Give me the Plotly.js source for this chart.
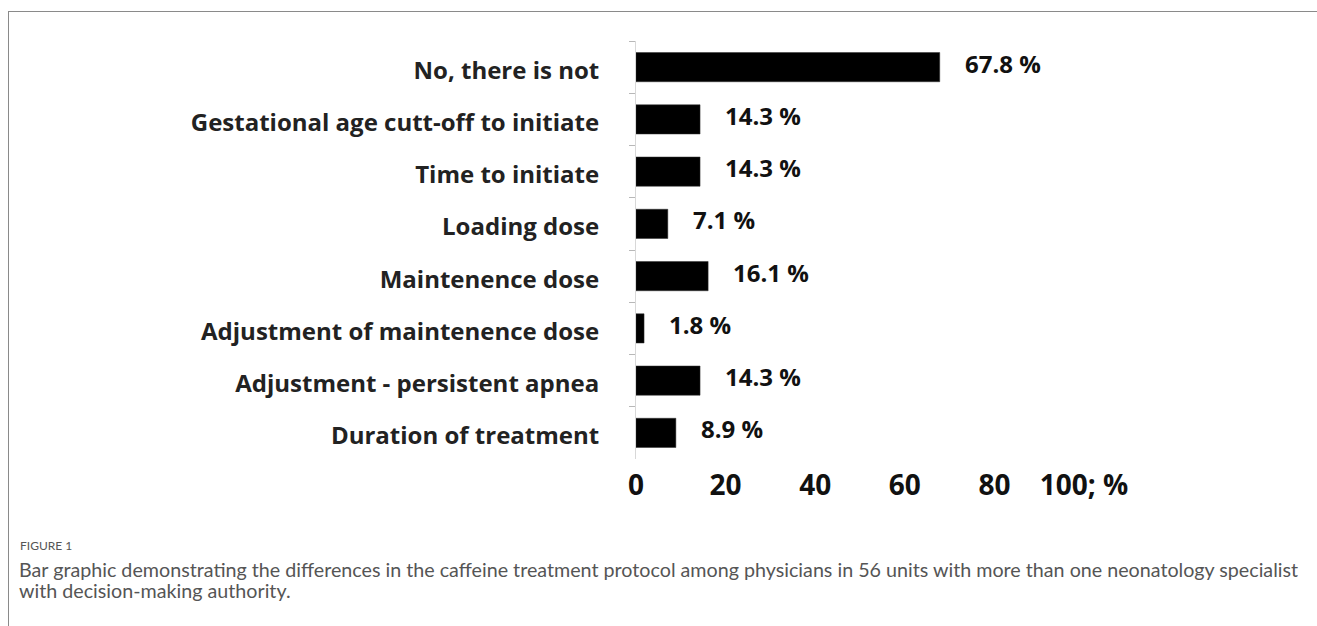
<!DOCTYPE html>
<html>
<head>
<meta charset="utf-8">
<script src="https://cdn.plot.ly/plotly-3.0.1.min.js"></script>
<style>
  html, body { margin: 0; padding: 0; background: #fff; }
  #wrap { position: relative; width: 1317px; height: 626px; overflow: hidden; }
  #frame { position: absolute; left: 8px; top: 11px; width: 1320px; height: 640px;
           border-left: 1px solid #8a8a8a; border-top: 1px solid #8a8a8a; pointer-events: none; }
  #chart { position: absolute; left: 0; top: 0; width: 1317px; height: 626px; }
</style>
</head>
<body>
<div id="wrap">
  <div id="chart"></div>
  <div id="frame"></div>
</div>
<script>
const categories = [
  "No, there is not",
  "Gestational age cutt-off to initiate",
  "Time to initiate",
  "Loading dose",
  "Maintenence dose",
  "Adjustment of maintenence dose",
  "Adjustment - persistent apnea",
  "Duration of treatment"
];
const values = [67.8, 14.3, 14.3, 7.1, 16.1, 1.8, 14.3, 8.9];
const valueLabels = values.map(v => v.toFixed(1) + " %");
const xTickVals = [0, 20, 40, 60, 80, 100];
const xTickText = ["0", "20", "40", "60", "80", "100; %"];
const figureLabel = "FIGURE 1";
const captionLines = [
  "Bar graphic demonstrating the differences in the caffeine treatment protocol among physicians in 56 units with more than one neonatology specialist",
  "with decision-making authority."
];

const W = 1317, H = 626, L = 636, R = 1317 - 1084, T = 41, B = 626 - 459;
function px2paperX(px) { return (px - L) / (W - L - R); }
function px2paperY(py) { return (H - B - py) / (H - T - B); }

const trace = {
  type: "bar",
  orientation: "h",
  x: values,
  y: categories,
  marker: { color: "#000000", line: { color: "#333", width: 0.5 } },
  width: 0.56,
  hoverinfo: "skip"
};

const annotations = values.map((v, i) => ({
  x: v, y: categories[i], xref: "x", yref: "y",
  text: valueLabels[i], showarrow: false,
  xanchor: "left", yanchor: "middle", xshift: 23, yshift: 4,
  font: { family: "Open Sans, sans-serif", size: 24, color: "#111", weight: 700 }
}));

annotations.push({
  xref: "paper", yref: "paper", x: px2paperX(18), y: px2paperY(545),
  xanchor: "left", yanchor: "middle", showarrow: false,
  text: figureLabel,
  font: { family: "Lato, sans-serif", size: 12, color: "#555" }
});
captionLines.forEach((line, i) => {
  annotations.push({
    xref: "paper", yref: "paper", x: px2paperX(17), y: px2paperY(569 + i * 21),
    xanchor: "left", yanchor: "middle", showarrow: false,
    text: line,
    font: { family: "Lato, sans-serif", size: 19.7, color: "#555" }
  });
});

const layout = {
  width: W, height: H,
  margin: { l: L, r: R, t: T, b: B, pad: 0 },
  paper_bgcolor: "rgba(0,0,0,0)",
  plot_bgcolor: "rgba(0,0,0,0)",
  showlegend: false,
  xaxis: {
    range: [0, 100],
    tickvals: xTickVals,
    ticktext: xTickText,
    showgrid: false, zeroline: false, showline: false,
    ticks: "",
    ticklabelstandoff: 7,
    tickfont: { family: "Open Sans, sans-serif", size: 28, color: "#111", weight: 700 },
    fixedrange: true
  },
  yaxis: {
    type: "category",
    autorange: "reversed",
    showgrid: false, zeroline: false,
    showline: true, linecolor: "#d8d8d8", linewidth: 1,
    ticks: "outside", ticklen: 6, tickcolor: "#b8b8b8", tickwidth: 1,
    tickson: "boundaries",
    ticklabelstandoff: 31,
    ticklabelshift: -3,
    tickfont: { family: "Open Sans, sans-serif", size: 24, color: "#222", weight: 700 },
    fixedrange: true
  },
  annotations: annotations
};

Plotly.newPlot("chart", [trace], layout, { displayModeBar: false, staticPlot: true });
</script>
</body>
</html>
